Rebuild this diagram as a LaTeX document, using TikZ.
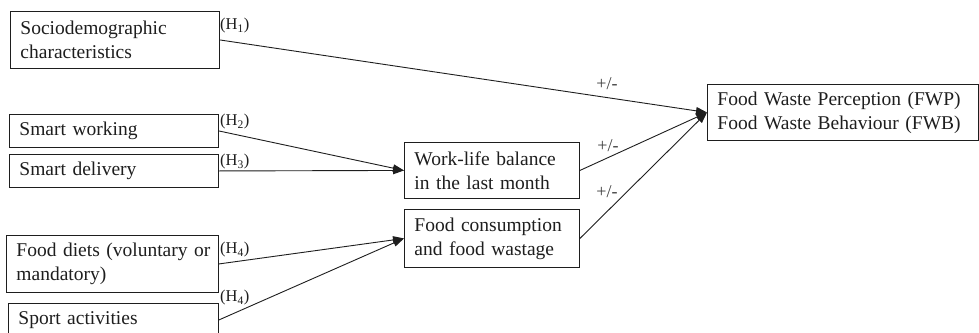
\documentclass[tikz,border=0pt]{standalone}
\usepackage{fontspec}
\setmainfont{Liberation Serif}
\usetikzlibrary{arrows.meta}
\definecolor{ink}{HTML}{1E1E1E}
\tikzset{
  box/.style={draw=ink, line width=0.9pt, rectangle, anchor=north west, inner xsep=10pt, inner ysep=0pt,
    align=left, text=ink, font=\fontsize{19.5}{24}\selectfont},
  hyp/.style={anchor=west, inner sep=0pt, text=ink, font=\fontsize{16.5}{18}\selectfont},
  sign/.style={inner sep=0pt, text=ink!85, font=\fontsize{18}{20}\selectfont},
  link/.style={draw=ink, line width=0.9pt},
  arr/.style={link, -{Triangle[length=11pt,width=7.5pt]}}
}
\begin{document}
\begin{tikzpicture}[x=1pt,y=-1pt]
\clip (0,0) rectangle (979,332);
\fill[white] (0,0) rectangle (979,332);
% boxes
\node[box, minimum width=209pt, minimum height=57pt, text width=189pt] (socio) at (10,11) {Sociodemographic\\characteristics};
\node[box, minimum width=209pt, minimum height=33pt, text width=189pt] (sw) at (9,114) {Smart working};
\node[box, minimum width=209pt, minimum height=33pt, text width=189pt] (sd) at (9,154) {Smart delivery};
\node[box, minimum width=212pt, minimum height=57pt, text width=192pt] (fd) at (6,235) {\mbox{Food diets (voluntary or}\\mandatory)};
\node[box, minimum width=210pt, minimum height=33pt, text width=190pt] (sp) at (8,303) {Sport activities};
\node[box, minimum width=175pt, minimum height=56pt, text width=155pt] (wl) at (404,142) {Work-life balance\\in the last month};
\node[box, minimum width=175pt, minimum height=58pt, text width=155pt] (fc) at (404,209) {Food consumption\\and food wastage};
\node[box, minimum width=271pt, minimum height=56pt, text width=251pt] (fwp) at (707,84) {Food Waste Perception (FWP)\\Food Waste Behaviour (FWB)};
% hypothesis labels
\node[hyp] (h1) at (220,26) {(H\textsubscript{1})};
\node[hyp] (h2) at (220,122) {(H\textsubscript{2})};
\node[hyp] (h3) at (220,162) {(H\textsubscript{3})};
\node[hyp] (h4a) at (220,250) {(H\textsubscript{4})};
\node[hyp] (h4b) at (220,298) {(H\textsubscript{4})};
% connectors
\draw[arr] (socio.east) -- (fwp.west);
\draw[arr] (sw.east) -- (wl.west);
\draw[arr] (sd.east) -- (wl.west);
\draw[arr] (fd.east) -- (fc.west);
\draw[arr] (sp.east) -- (fc.west);
\draw[arr] (wl.east) -- (fwp.west);
\draw[arr] (fc.east) -- (fwp.west);
% signs
\node[sign] (s1) at (607,84) {+/-};
\node[sign] (s2) at (608,146) {+/-};
\node[sign] (s3) at (607,192) {+/-};
\end{tikzpicture}
\end{document}
